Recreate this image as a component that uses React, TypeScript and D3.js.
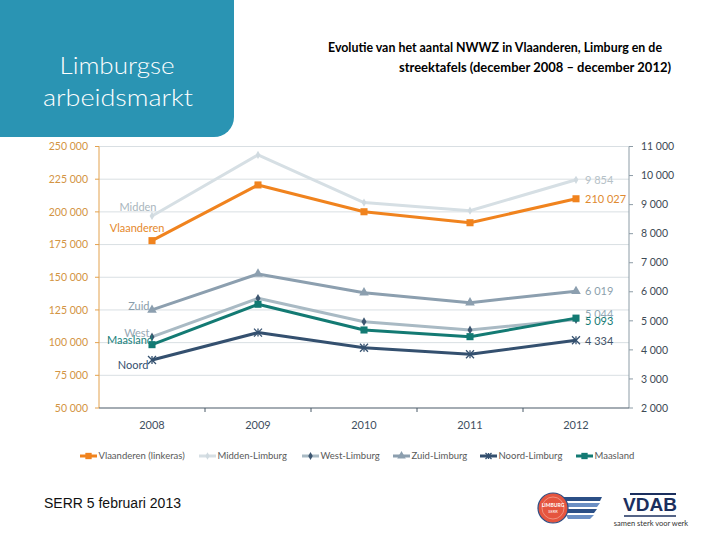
import React from 'react';
import * as d3 from 'd3';

const years = ['2008', '2009', '2010', '2011', '2012'];
const vlaanderen = [178000, 220600, 200100, 191700, 210027];
const midden = [8610, 10710, 9070, 8790, 9854];
const west = [4445, 5775, 4970, 4685, 5044];
const zuid = [5375, 6615, 5970, 5625, 6019];
const noord = [3650, 4595, 4075, 3850, 4334];
const maasland = [4180, 5570, 4685, 4455, 5093];
const leftTicks = [50000, 75000, 100000, 125000, 150000, 175000, 200000, 225000, 250000];
const rightTicks = [2000, 3000, 4000, 5000, 6000, 7000, 8000, 9000, 10000, 11000];
const legendNames = ['Vlaanderen (linkeras)', 'Midden-Limburg', 'West-Limburg', 'Zuid-Limburg', 'Noord-Limburg', 'Maasland'];
const startNames = ['Vlaanderen', 'Midden', 'West', 'Zuid', 'Noord', 'Maasland'];

const FONT = 'Lato, "Open Sans", sans-serif';
const fmt = (v: number) => d3.format(',')(v).replace(/,/g, ' ');

type Series = {
  values: number[];
  axis: 'L' | 'R';
  color: string;
  labelColor: string;
  marker: string;
  markerColor: string;
  markerSize: number;
  startDx: number;
  startDy: number;
  endDy: number;
  endColor: string;
  legendX: number;
};

const series: Series[] = [
  { values: vlaanderen, axis: 'L', color: '#F0831E', labelColor: '#E5892C', marker: 'square', markerColor: '#F0831E', markerSize: 50, startDx: 12.5, startDy: -12.7, endDy: 0, endColor: '#E08A30', legendX: 80 },
  { values: midden, axis: 'R', color: '#D6DFE4', labelColor: '#A9B6BD', marker: 'diamond', markerColor: '#D0DAE0', markerSize: 20, startDx: 4.5, startDy: -9, endDy: 0, endColor: '#B5C1C7', legendX: 199 },
  { values: west, axis: 'R', color: '#A9BAC4', labelColor: '#97A8B4', marker: 'diamond', markerColor: '#3D5670', markerSize: 22, startDx: -2.5, startDy: -4, endDy: -5.6, endColor: '#93A8B5', legendX: 302 },
  { values: zuid, axis: 'R', color: '#8C9FAF', labelColor: '#8A9DAB', marker: 'triangle', markerColor: '#8C9FAF', markerSize: 40, startDx: -2.5, startDy: -4, endDy: 0, endColor: '#8C9FAD', legendX: 393 },
  { values: noord, axis: 'R', color: '#34506F', labelColor: '#34506E', marker: 'asterisk', markerColor: '#34506F', markerSize: 4, startDx: -3.5, startDy: 5, endDy: 0.7, endColor: '#3F5268', legendX: 480 },
  { values: maasland, axis: 'R', color: '#137A73', labelColor: '#17807A', marker: 'square', markerColor: '#137A73', markerSize: 50, startDx: 1, startDy: -4.7, endDy: 3, endColor: '#137A73', legendX: 576 },
];

const x = d3.scaleBand<string>().domain(years).range([99, 629]);
const yL = d3.scaleLinear().domain([50000, 250000]).range([408, 146.5]);
const yR = d3.scaleLinear().domain([2000, 11000]).range([408, 146.5]);
const cx = (y: string) => (x(y) as number) + x.bandwidth() / 2;

function Marker({ kind, px, py, color, size }: { kind: string; px: number; py: number; color: string; size: number }) {
  if (kind === 'asterisk') {
    const r = size;
    return (
      <g transform={`translate(${px},${py})`} stroke={color} strokeWidth={1.3}>
        <line x1={-r} y1={-r} x2={r} y2={r} />
        <line x1={-r} y1={r} x2={r} y2={-r} />
        <line x1={0} y1={-r} x2={0} y2={r} />
      </g>
    );
  }
  const type = kind === 'square' ? d3.symbolSquare : kind === 'triangle' ? d3.symbolTriangle : d3.symbolDiamond;
  const d = d3.symbol().type(type).size(size)() as string;
  return <path d={d} transform={`translate(${px},${py})`} fill={color} />;
}

export default function App() {
  const line = (s: Series) =>
    d3
      .line<number>()
      .x((_, i) => cx(years[i]))
      .y((v) => (s.axis === 'L' ? yL(v) : yR(v)))(s.values) as string;

  return (
    <svg width={720} height={540} style={{ position: 'absolute', left: 0, top: 0, background: '#fff' }} fontFamily={FONT}>
      <rect width={720} height={540} fill="#fff" />
      {/* header block */}
      <path d="M0,0 H234 V117 A20,20 0 0 1 214,137 H0 Z" fill="#2A94B3" />
      <text x={117} y={74} textAnchor="middle" fill="#fff" fontSize={24} fontWeight={300} textLength={115} lengthAdjust="spacingAndGlyphs">Limburgse</text>
      <text x={118} y={106} textAnchor="middle" fill="#fff" fontSize={24} fontWeight={300} textLength={150} lengthAdjust="spacingAndGlyphs">arbeidsmarkt</text>
      <text x={662} y={52} textAnchor="end" fill="#000" fontSize={13} fontWeight={700} textLength={334} lengthAdjust="spacingAndGlyphs">Evolutie van het aantal NWWZ in Vlaanderen, Limburg en de</text>
      <text x={671} y={72} textAnchor="end" fill="#000" fontSize={13} fontWeight={700} textLength={272} lengthAdjust="spacingAndGlyphs">streektafels (december 2008 – december 2012)</text>

      {/* gridlines */}
      {leftTicks.slice(1).map((t) => (
        <line key={t} x1={99} x2={629} y1={yL(t)} y2={yL(t)} stroke="#D9DFE3" strokeWidth={1} />
      ))}

      {/* left axis */}
      <line x1={99} x2={99} y1={146.5} y2={408} stroke="#E3A24E" strokeWidth={1} />
      {leftTicks.map((t) => (
        <g key={t}>
          <line x1={95} x2={99} y1={yL(t)} y2={yL(t)} stroke="#E3A24E" />
          <text x={88} y={yL(t)} dy="0.35em" textAnchor="end" fontSize={10.5} fill="#D39443">{fmt(t)}</text>
        </g>
      ))}

      {/* right axis */}
      <line x1={629} x2={629} y1={146.5} y2={408} stroke="#8D9CA6" strokeWidth={1} />
      {rightTicks.map((t) => (
        <g key={t}>
          <line x1={629} x2={633} y1={yR(t)} y2={yR(t)} stroke="#8D9CA6" />
          <text x={641} y={yR(t)} dy="0.35em" textAnchor="start" fontSize={10.5} fill="#3E4A55">{fmt(t)}</text>
        </g>
      ))}

      {/* bottom axis */}
      <line x1={99} x2={629} y1={408} y2={408} stroke="#4A5A68" strokeWidth={1.2} />
      {years.map((y, i) => (
        <g key={y}>
          {i > 0 && <line x1={x(y) as number} x2={x(y) as number} y1={408} y2={412} stroke="#4A5A68" />}
          <text x={cx(y)} y={425} dy="0.35em" textAnchor="middle" fontSize={11} fill="#3F4F5F">{y}</text>
        </g>
      ))}

      {/* series */}
      {series.map((s, si) => (
        <g key={si}>
          <path d={line(s)} fill="none" stroke={s.color} strokeWidth={3} strokeLinejoin="round" />
          {s.values.map((v, i) => (
            <Marker key={i} kind={s.marker} px={cx(years[i])} py={s.axis === 'L' ? yL(v) : yR(v)} color={s.markerColor} size={s.markerSize} />
          ))}
          <text
            x={cx(years[0]) + s.startDx}
            y={(s.axis === 'L' ? yL(s.values[0]) : yR(s.values[0])) + s.startDy}
            dy="0.35em"
            textAnchor="end"
            fontSize={11}
            fill={s.labelColor}
          >
            {startNames[si]}
          </text>
          <text
            x={cx(years[4]) + 9}
            y={(s.axis === 'L' ? yL(s.values[4]) : yR(s.values[4])) + s.endDy}
            dy="0.35em"
            textAnchor="start"
            fontSize={11}
            fill={s.endColor}
          >
            {fmt(s.values[4])}
          </text>
        </g>
      ))}

      {/* legend */}
      {series.map((s, si) => (
        <g key={'lg' + si}>
          <line x1={s.legendX} x2={s.legendX + 17} y1={456} y2={456} stroke={s.color} strokeWidth={3} />
          <Marker kind={s.marker} px={s.legendX + 8.5} py={456} color={s.markerColor} size={s.marker === 'asterisk' ? 3 : s.markerSize * 0.8} />
          <text x={s.legendX + 18.5} y={456} dy="0.35em" fontSize={9.5} fill="#595959">{legendNames[si]}</text>
        </g>
      ))}

      {/* footer */}
      <text x={44} y={508} fontFamily='"Liberation Sans", Arial, sans-serif' fontSize={14} fill="#111">SERR 5 februari 2013</text>

      {/* logo 1 */}
      <g>
        <path d="M560,497 L602,497 L600,501 L562,501 Z" fill="#2B4F86" />
        <path d="M562,503 L600,503 L597,507 L564,507 Z" fill="#6B8FC4" />
        <path d="M564,509 L597,509 L594,513 L566,513 Z" fill="#2B4F86" />
        <path d="M566,515 L594,515 L590,519 L568,519 Z" fill="#6B8FC4" />
        <circle cx={553} cy={508} r={15} fill="#E5553F" stroke="#2B4F86" strokeWidth={1.2} />
        <circle cx={553} cy={508} r={11} fill="none" stroke="#F3A08F" strokeWidth={0.8} />
        <text x={553} y={507} textAnchor="middle" fontSize={5} fontWeight={700} fill="#fff">LIMBURG</text>
        <text x={553} y={513} textAnchor="middle" fontSize={4} fill="#fff">SERR</text>
      </g>
      {/* logo VDAB */}
      <g>
        <line x1={630} x2={676} y1={494} y2={494} stroke="#1B2F5E" strokeWidth={2} />
        <text x={650} y={511} textAnchor="middle" fontSize={19} fontWeight={900} fill="#1B2F5E" fontFamily='"Liberation Sans", Arial, sans-serif'>VDAB</text>
        <line x1={624} x2={676} y1={516} y2={516} stroke="#1B2F5E" strokeWidth={1.5} />
        <text x={651} y={526} textAnchor="middle" fontSize={7.5} fill="#333">samen sterk voor werk</text>
      </g>
    </svg>
  );
}
